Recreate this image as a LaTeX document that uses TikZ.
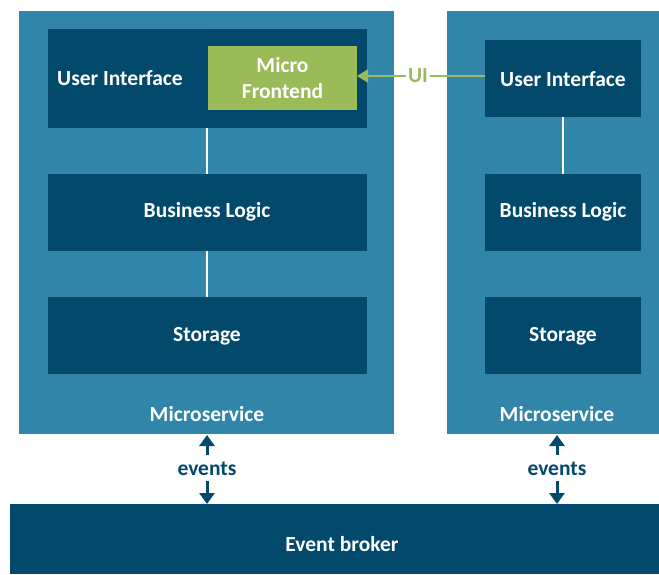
\documentclass[tikz,border=0pt]{standalone}
\usepackage{fontspec}
\setmainfont{Carlito}
\usetikzlibrary{arrows.meta}
\definecolor{svcblue}{RGB}{48,133,168}
\definecolor{darkblue}{RGB}{2,73,108}
\definecolor{mfgreen}{RGB}{155,187,89}
\tikzset{
  service/.style={fill=svcblue, draw=none},
  layer/.style={fill=darkblue, draw=none},
  lbl/.style={font=\bfseries\fontsize{21.5}{26}\selectfont, text=white, align=center},
  link/.style={draw=white, line width=2pt},
  evarrow/.style={draw=darkblue, line width=3pt, -{Triangle[length=11pt,width=15pt]}},
  evtext/.style={font=\bfseries\fontsize{21.5}{24}\selectfont, text=darkblue}
}
\begin{document}
\begin{tikzpicture}[x=1pt,y=-1pt]
  \useasboundingbox (0,0) rectangle (659,574);

  % microservice containers
  \fill[service] (19,11) rectangle (394,434);
  \fill[service] (447,11) rectangle (659,434);
  \node[lbl] (msA) at (207,414) {Microservice};
  \node[lbl] (msB) at (557,414) {Microservice};

  % left service layers
  \fill[layer] (48,29) rectangle (367,128);
  \coordinate (uiA-b) at (207,128);
  \node[lbl] (uiA) at (120,78) {User Interface};
  \fill[mfgreen] (208,46) rectangle (357,110);
  \coordinate (mf-e) at (357,76);
  \node[lbl] (mf) at (282.5,78) {Micro\\Frontend};
  \fill[layer] (48,174) rectangle (367,251);
  \node[lbl] (blA) at (207,212) {Business Logic};
  \coordinate (blA-t) at (207,174);
  \coordinate (blA-b) at (207,251);
  \fill[layer] (48,297) rectangle (367,374);
  \node[lbl] (stA) at (207,336) {Storage};
  \coordinate (stA-t) at (207,297);

  % right service layers
  \fill[layer] (485,40) rectangle (641,117);
  \node[lbl] (uiB) at (563,79) {User Interface};
  \coordinate (uiB-w) at (485,76);
  \coordinate (uiB-b) at (563,117);
  \fill[layer] (485,174) rectangle (641,251);
  \node[lbl] (blB) at (563,212) {Business Logic};
  \coordinate (blB-t) at (563,174);
  \fill[layer] (485,297) rectangle (641,374);
  \node[lbl] (stB) at (563,336) {Storage};

  % internal links
  \draw[link] (uiA-b) -- (blA-t);
  \draw[link] (blA-b) -- (stA-t);
  \draw[link] (uiB-b) -- (blB-t);

  % UI composition
  \node[font=\bfseries\fontsize{21.5}{24}\selectfont, text=mfgreen, inner sep=2pt] (ui) at (418,76) {UI};
  \draw[draw=mfgreen, line width=2pt] (uiB-w) -- (ui);
  \draw[draw=mfgreen, line width=2pt, -{Triangle[length=11pt,width=13pt]}] (ui) -- (mf-e);

  % event broker
  \fill[darkblue] (10,504) rectangle (659,574);
  \node[lbl] (broker) at (342,544) {Event broker};

  % event flows
  \node[evtext] (evA) at (207,469) {events};
  \node[evtext] (evB) at (557,469) {events};
  \coordinate (evA-top) at (207,435);
  \coordinate (evA-bot) at (207,504);
  \coordinate (evB-top) at (557,435);
  \coordinate (evB-bot) at (557,504);
  \draw[evarrow] (207,455) -- (evA-top);
  \draw[evarrow] (207,481) -- (evA-bot);
  \draw[evarrow] (557,455) -- (evB-top);
  \draw[evarrow] (557,481) -- (evB-bot);
\end{tikzpicture}
\end{document}
